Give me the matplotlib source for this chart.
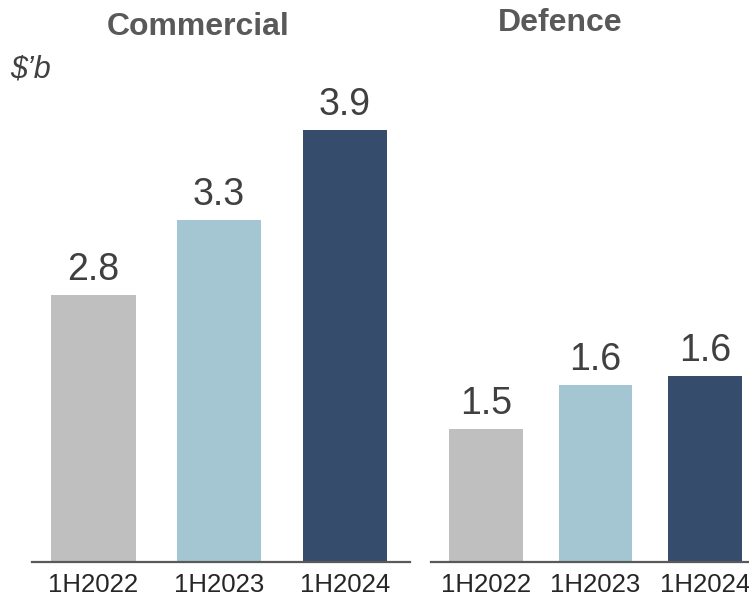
import matplotlib.pyplot as plt

plt.rcParams['font.family'] = ['Liberation Sans', 'DejaVu Sans']

# données
periods = ["1H2022", "1H2023", "1H2024"]
commercial = [2.8, 3.3, 3.9]
defence = [1.48, 1.60, 1.625]
commercial_labels = ["2.8", "3.3", "3.9"]
defence_labels = ["1.5", "1.6", "1.6"]
colors = ["#BFBFBF", "#A3C6D2", "#364C6C"]

fig = plt.figure(figsize=(7.49, 5.98), dpi=100)

W, H = 749, 598
bottom_px = 562
top_px = 60
h_frac = (bottom_px - top_px) / H
b_frac = 1 - bottom_px / H

ax1 = fig.add_axes([32 / W, b_frac, 378 / W, h_frac])
ax2 = fig.add_axes([431 / W, b_frac, 318 / W, h_frac])


def draw(ax, values, labels, xlim, ylim, width, title, title_y):
    x = range(len(values))
    bars = ax.bar(x, values, width, color=colors)
    ax.set_xlim(*xlim)
    ax.set_ylim(*ylim)
    for bar, lab in zip(bars, labels):
        ax.annotate(lab, (bar.get_x() + bar.get_width() / 2, bar.get_height()),
                    xytext=(0, 5), textcoords="offset points",
                    ha="center", va="bottom", fontsize=27, color="#404040")
    for s in ["top", "right", "left"]:
        ax.spines[s].set_visible(False)
    ax.spines["bottom"].set_color("#595959")
    ax.spines["bottom"].set_linewidth(1.6)
    ax.set_yticks([])
    ax.set_xticks(list(x))
    ax.set_xticklabels(periods, fontsize=18.5, color="#262626")
    ax.tick_params(axis="x", length=0, pad=8)
    fig.text(title[1], title_y, title[0], ha="center", va="center",
             fontsize=23, fontweight="bold", color="#595959")


draw(ax1, commercial, commercial_labels, (-0.49, 2.52),
     (1.02, 1.02 + (bottom_px - top_px) / 150), 0.67,
     ("Commercial", 198 / W), 1 - 27 / H)
draw(ax2, defence, defence_labels, (-0.5, 2.4),
     (1.117, 1.117 + (bottom_px - top_px) / 366.7), 0.674,
     ("Defence", 560 / W), 1 - 23 / H)

fig.text(10 / W, 1 - 69 / H, "$\u2019b", ha="left", va="center",
         fontsize=22, style="italic", color="#404040")

fig.savefig("out.png", dpi=100)
